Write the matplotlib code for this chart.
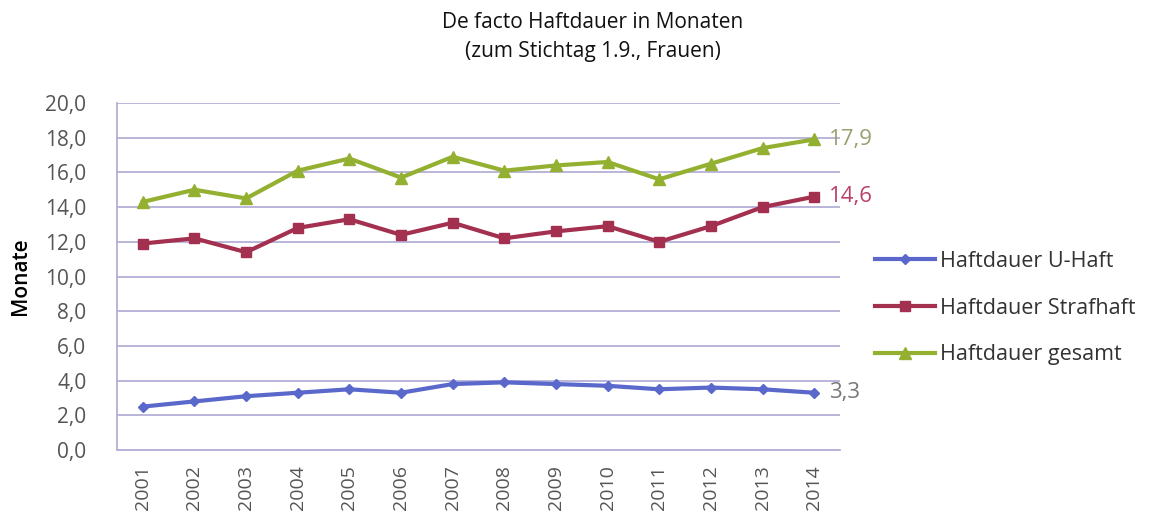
import matplotlib
matplotlib.use("Agg")
import matplotlib.pyplot as plt
from matplotlib.ticker import FuncFormatter

plt.rcParams["font.family"] = ["Open Sans", "DejaVu Sans"]

years = ["2001", "2002", "2003", "2004", "2005", "2006", "2007",
         "2008", "2009", "2010", "2011", "2012", "2013", "2014"]
u_haft = [2.5, 2.8, 3.1, 3.3, 3.5, 3.3, 3.8, 3.9, 3.8, 3.7, 3.5, 3.6, 3.5, 3.3]
strafhaft = [11.9, 12.2, 11.4, 12.8, 13.3, 12.4, 13.1, 12.2, 12.6, 12.9, 12.0, 12.9, 14.0, 14.6]
gesamt = [14.3, 15.0, 14.5, 16.1, 16.8, 15.7, 16.9, 16.1, 16.4, 16.6, 15.6, 16.5, 17.4, 17.9]
series_names = ["Haftdauer U-Haft", "Haftdauer Strafhaft", "Haftdauer gesamt"]

c_blue = "#5a68cc"
c_red = "#a3304f"
c_green = "#93b030"

fig = plt.figure(figsize=(11.61, 5.21), dpi=100)
ax = fig.add_axes([117 / 1161, 1 - 450 / 521, (840 - 117) / 1161, (450 - 103) / 521])

x = range(len(years))
ax.plot(x, u_haft, color=c_blue, lw=3, marker="D", ms=5, label=series_names[0])
ax.plot(x, strafhaft, color=c_red, lw=3, marker="s", ms=7, label=series_names[1])
ax.plot(x, gesamt, color=c_green, lw=3, marker="^", ms=8, label=series_names[2])

# end-of-line value labels
last = len(years) - 1
ax.text(last + 0.28, gesamt[-1], "17,9", color="#9aa070", fontsize=16, va="center")
ax.text(last + 0.28, strafhaft[-1], "14,6", color="#b8406a", fontsize=16, va="center")
ax.text(last + 0.28, u_haft[-1], "3,3", color="#777777", fontsize=16, va="center")

ax.set_xlim(-0.5, 13.5)
ax.set_ylim(0, 20)
ax.set_yticks([i * 2 for i in range(11)])
ax.yaxis.set_major_formatter(FuncFormatter(lambda v, p: f"{v:.1f}".replace(".", ",")))
ax.set_xticks(list(x))
ax.set_xticklabels(years, rotation=90, fontsize=14, color="#555555")
ax.tick_params(axis="y", labelsize=15, labelcolor="#555555", length=0, pad=22)
ax.tick_params(axis="x", length=0, pad=11)

ax.grid(axis="y", color="#b4b0d8", lw=1.3)
ax.set_axisbelow(True)
for s in ["top", "right"]:
    ax.spines[s].set_visible(False)
ax.spines["left"].set_color("#b4b0d8")
ax.spines["bottom"].set_color("#b4b0d8")
ax.spines["left"].set_linewidth(1.3)
ax.spines["bottom"].set_linewidth(1.3)

ax.set_ylabel("Monate", fontsize=15, fontweight="semibold", labelpad=10)

fig.text(593 / 1161, 1 - 22 / 521, "De facto Haftdauer in Monaten", ha="center", va="center",
         fontsize=15, fontweight="medium", color="#111111")
fig.text(593 / 1161, 1 - 52 / 521, "(zum Stichtag 1.9., Frauen)", ha="center", va="center",
         fontsize=15, fontweight="medium", color="#111111")

leg = ax.legend(loc="center left", bbox_to_anchor=(875 / 1161, 1 - 308 / 521),
                bbox_transform=fig.transFigure, frameon=False, fontsize=15.5,
                handlelength=2.8, handletextpad=0.2, labelspacing=1.2, borderpad=0,
                borderaxespad=0)
for t in leg.get_texts():
    t.set_color("#333333")

fig.savefig("out.png", dpi=100)
